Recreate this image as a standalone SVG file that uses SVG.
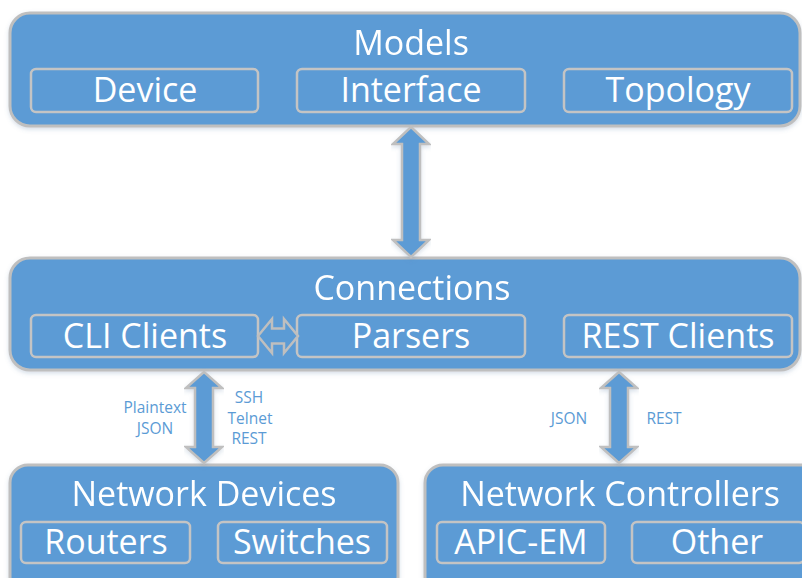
<svg xmlns="http://www.w3.org/2000/svg" width="802" height="578" viewBox="0 0 802 578">
  <defs>
    <filter id="shadow" x="-5%" y="-10%" width="110%" height="130%">
      <feDropShadow dx="0" dy="2" stdDeviation="2" flood-color="#5B7FA8" flood-opacity="0.25"/>
    </filter>
  </defs>
  <style>
    .panel { fill: #5B9BD5; stroke: #BFBFBF; stroke-width: 3; }
    .item { fill: none; stroke: #C4C4C4; stroke-width: 2.5; }
    .title, .label { font-family: "Open Sans", "Noto Sans", sans-serif; font-size: 34px; fill: #FFFFFF; text-anchor: middle; }
    .proto { font-family: "Open Sans", "Noto Sans", sans-serif; font-size: 15.5px; fill: #5B9BD5; text-anchor: middle; }
    .arrow { fill: #5B9BD5; stroke: #BFBFBF; stroke-width: 2.5; stroke-linejoin: miter; }
  </style>

  <rect width="802" height="578" fill="#FFFFFF"/>

  <!-- Models -->
  <g id="models" filter="url(#shadow)">
    <rect class="panel" x="10" y="13" width="790" height="113" rx="20"/>
    <text class="title" x="411" y="55">Models</text>
  </g>
  <g id="device">
    <rect class="item" x="31" y="69" width="227" height="43" rx="5"/>
    <text class="label" x="145" y="102">Device</text>
  </g>
  <g id="interface">
    <rect class="item" x="297" y="69" width="228" height="43" rx="5"/>
    <text class="label" x="411" y="102">Interface</text>
  </g>
  <g id="topology">
    <rect class="item" x="564" y="69" width="228" height="43" rx="5"/>
    <text class="label" x="678" y="102">Topology</text>
  </g>

  <!-- Connections -->
  <g id="connections" filter="url(#shadow)">
    <rect class="panel" x="10" y="258" width="790" height="112" rx="20"/>
    <text class="title" x="412" y="300">Connections</text>
  </g>
  <g id="cli-clients">
    <rect class="item" x="31" y="315" width="227" height="42" rx="5"/>
    <text class="label" x="145" y="348">CLI Clients</text>
  </g>
  <g id="parsers">
    <rect class="item" x="297" y="315" width="228" height="42" rx="5"/>
    <text class="label" x="411" y="348">Parsers</text>
  </g>
  <g id="rest-clients">
    <rect class="item" x="564" y="315" width="228" height="42" rx="5"/>
    <text class="label" x="678" y="348">REST Clients</text>
  </g>

  <!-- Network Devices -->
  <g id="network-devices" filter="url(#shadow)">
    <rect class="panel" x="10" y="465" width="388" height="130" rx="18"/>
    <text class="title" x="204" y="506">Network Devices</text>
  </g>
  <g id="routers">
    <rect class="item" x="21" y="522" width="169" height="41" rx="5"/>
    <text class="label" x="106" y="554">Routers</text>
  </g>
  <g id="switches">
    <rect class="item" x="218" y="522" width="169" height="41" rx="5"/>
    <text class="label" x="302" y="554">Switches</text>
  </g>

  <!-- Network Controllers -->
  <g id="network-controllers" filter="url(#shadow)">
    <rect class="panel" x="425" y="465" width="400" height="130" rx="18"/>
    <text class="title" x="620" y="506">Network Controllers</text>
  </g>
  <g id="apic-em">
    <rect class="item" x="437" y="522" width="168" height="41" rx="5"/>
    <text class="label" x="521" y="554">APIC-EM</text>
  </g>
  <g id="other">
    <rect class="item" x="632" y="522" width="172" height="41" rx="5"/>
    <text class="label" x="717" y="554">Other</text>
  </g>

  <!-- Connectors -->
  <g id="connectors">
    <!-- Models <-> Connections -->
    <path class="arrow" filter="url(#shadow)" d="M411,127 L429,144 L420,144 L420,240 L429,240 L411,257 L393,240 L402,240 L402,144 L393,144 Z"/>
    <!-- CLI Clients <-> Parsers -->
    <path class="arrow" d="M258,336 L272,319 L272,328.5 L284,328.5 L284,319 L298,336 L284,353 L284,343.5 L272,343.5 L272,353 Z"/>
    <!-- Connections <-> Network Devices -->
    <path class="arrow" filter="url(#shadow)" d="M204,372 L222,388 L213,388 L213,447 L222,447 L204,463 L186,447 L195,447 L195,388 L186,388 Z"/>
    <!-- Connections <-> Network Controllers -->
    <path class="arrow" filter="url(#shadow)" d="M619,372 L637,388 L628,388 L628,447 L637,447 L619,463 L601,447 L610,447 L610,388 L601,388 Z"/>

    <text class="proto" x="155" y="413">Plaintext</text>
    <text class="proto" x="155" y="434">JSON</text>
    <text class="proto" x="249" y="403">SSH</text>
    <text class="proto" x="250" y="424">Telnet</text>
    <text class="proto" x="249" y="444">REST</text>
    <text class="proto" x="569" y="424">JSON</text>
    <text class="proto" x="664" y="424">REST</text>
  </g>
</svg>
